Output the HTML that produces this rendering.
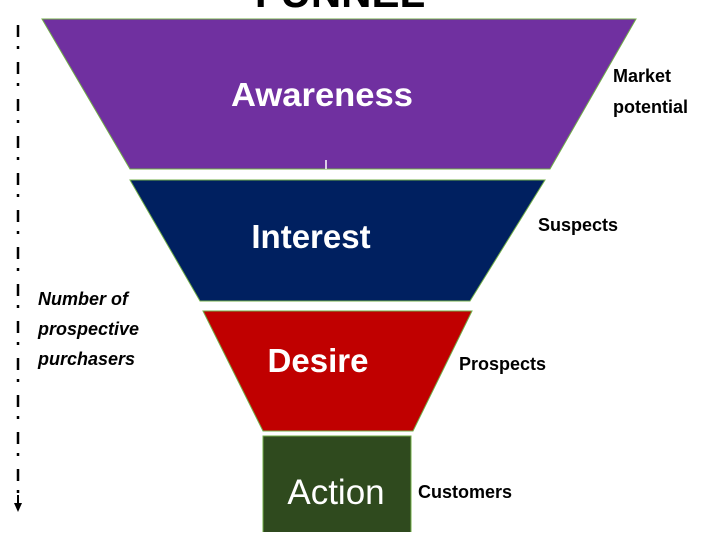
<!DOCTYPE html>
<html><head><meta charset="utf-8"><style>
html,body{margin:0;padding:0;background:#fff;}
body{width:710px;height:532px;overflow:hidden;position:relative;}
svg text{font-family:"Liberation Sans",sans-serif;}
</style></head><body>
<svg width="710" height="532" viewBox="0 0 710 532" xmlns="http://www.w3.org/2000/svg">
<text x="340" y="7" text-anchor="middle" font-size="42" font-weight="bold" fill="#000">FUNNEL</text>
<line x1="18" y1="25" x2="18" y2="500" stroke="#000" stroke-width="2.5" stroke-dasharray="12,9,3,13"/>
<line x1="18" y1="495" x2="18" y2="510" stroke="#000" stroke-width="2"/>
<polygon points="14,503 22,503 18,512" fill="#000"/>
<polygon points="42,19 636,19 550,169 130,169" fill="#7030a0" stroke="#70ad47" stroke-width="1"/>
<line x1="326" y1="160" x2="326" y2="169" stroke="#fff" stroke-width="1.5"/>
<polygon points="130,180 545,180 470,301 200,301" fill="#002060" stroke="#70ad47" stroke-width="1"/>
<polygon points="203,311 472,311 413,431 263,431" fill="#c00000" stroke="#70ad47" stroke-width="1"/>
<rect x="263" y="436" width="148" height="100" fill="#2f4a1e" stroke="#70ad47" stroke-width="1"/>
<text x="322" y="106" text-anchor="middle" font-size="33" font-weight="bold" fill="#fff" textLength="182" lengthAdjust="spacingAndGlyphs">Awareness</text>
<text x="311" y="248" text-anchor="middle" font-size="33" font-weight="bold" fill="#fff">Interest</text>
<text x="318" y="372" text-anchor="middle" font-size="33" font-weight="bold" fill="#fff">Desire</text>
<text x="336" y="504" text-anchor="middle" font-size="35" fill="#fff">Action</text>
<g font-size="18" font-weight="bold" fill="#000">
<text x="613" y="82">Market</text>
<text x="613" y="113">potential</text>
<text x="538" y="231">Suspects</text>
<text x="459" y="370">Prospects</text>
<text x="418" y="498">Customers</text>
</g>
<g font-size="18" font-weight="bold" font-style="italic" fill="#000">
<text x="38" y="305">Number of</text>
<text x="38" y="335">prospective</text>
<text x="38" y="365">purchasers</text>
</g>
</svg>
</body></html>
